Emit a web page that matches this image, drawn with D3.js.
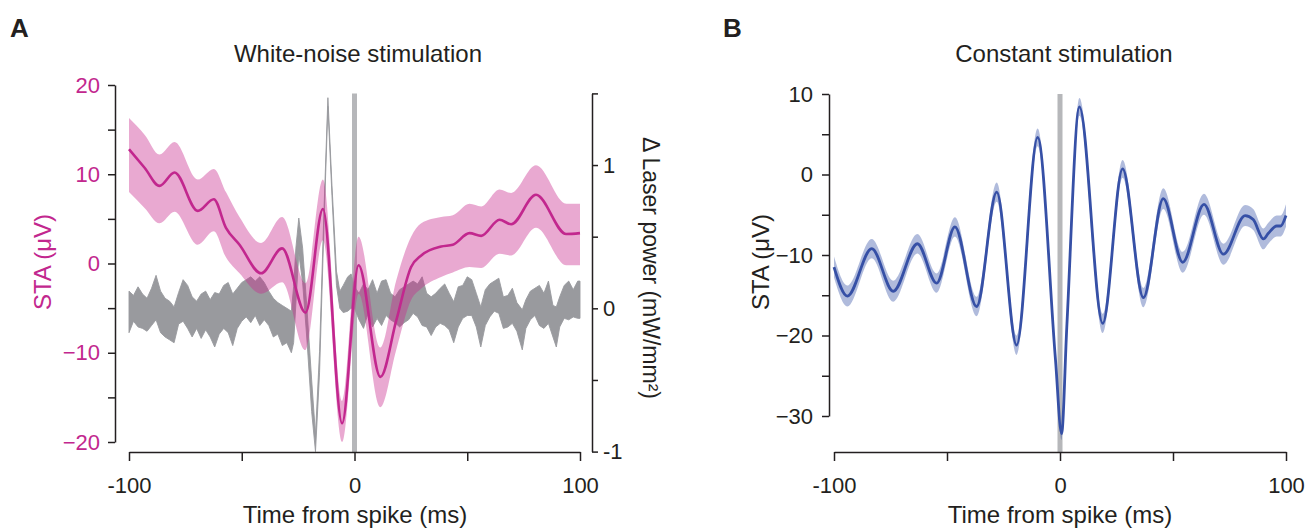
<!DOCTYPE html>
<html><head><meta charset="utf-8">
<script src="https://cdn.jsdelivr.net/npm/d3@7"></script>
<style>
body{margin:0;background:#fff}
svg{display:block}
text{font-family:"Liberation Sans",Arial,Helvetica,sans-serif;fill:#231f20}
</style>
</head><body>
<svg id="chart" width="1314" height="532"></svg>
<script>
// ---------- data ----------
const xTicks = [-100, -50, 0, 50, 100];
const xTickLabels = ["-100", "", "0", "", "100"];

const staATicks = [-20, -15, -10, -5, 0, 5, 10, 15, 20];
const staATickLabels = ["\u221220", "", "\u221210", "", "0", "", "10", "", "20"];

const laserTicks = [-1, -0.5, 0, 0.5, 1, 1.5];
const laserTickLabels = ["-1", "", "0", "", "1", ""];

const staBTicks = [-30, -25, -20, -15, -10, -5, 0, 5, 10];
const staBTickLabels = ["\u221230", "", "\u221220", "", "\u221210", "", "0", "", "10"];

// Panel A: STA (white noise), mean and band edges (µV)
const wnT     = [-100, -93, -86.5, -79.8, -69.5, -62.4, -57, -51, -41.4, -32.1, -21.7, -14, -5.5, 1.8, 11.5, 18.5, 25.1, 29.6, 38.4, 43.6, 51, 56.2, 64.3, 69.5, 80.5, 93.9, 100];
const wnMean  = [12.8, 10.7, 8.7, 10.2, 5.9, 7.2, 4.0, 2.1, -1.1, 1.7, -5.5, 6.1, -17.9, -0.2, -12.7, -6.4, -0.4, 0.9, 1.9, 2.1, 3.4, 3.1, 4.9, 4.4, 7.7, 3.3, 3.4];
const wnUpper = [16.3, 14.4, 12.2, 13.6, 9.4, 10.6, 8.0, 5.2, 2.3, 5.2, -2.2, 9.4, -15.4, 3.0, -9.4, -1.9, 3.0, 4.5, 5.2, 5.4, 6.7, 6.4, 8.3, 7.9, 11.0, 6.7, 6.7];
const wnLower = [8.0, 6.2, 4.5, 5.8, 2.1, 3.6, 0.7, -1.1, -3.4, -2.1, -9.7, 2.6, -20.0, -3.4, -16.1, -9.7, -4.1, -2.8, -1.5, -1.0, -0.4, -0.5, 1.1, 0.9, 4.0, -0.2, -0.2];

// Panel A: laser power STA band (mW/mm^2)
const laserT = [-100,-98,-96,-94,-92,-90,-88,-86,-84,-82,-80,-78,-76,-74,-72,-70,-68,-66,-64,-62,-60,-58,-56,-54,-52,-50,
  -48,-46,-44,-42,-40,-38,-36,-34,-32,-30,-28,-27,-26,-24.7,-23,-21,-19,-17.3,-15.5,-13.5,-11.8,-10,-8,-6.5,-5,-3,-1.5,0,
  2,4,6,8,10,12,14,16,18,20,22,24,26,28,30,32,34,36,38,40,42,44,46,48,50,
  52,54,56,58,60,62,64,66,68,70,72,74.4,76,78,80,82,84,86,88,89.5,91,93,95,97,99,100];
const laserUpper = [0.12,0.09,0.15,0.10,0.07,0.14,0.23,0.12,0.07,0.05,0.01,0.11,0.20,0.16,0.08,0.05,0.10,0.12,0.06,0.11,0.10,0.16,0.18,0.10,0.14,0.18,
  0.20,0.22,0.19,0.22,0.18,0.12,0.07,0.04,0.02,0.00,-0.02,0.15,0.42,0.63,0.42,-0.02,-0.50,-0.88,-0.30,0.70,1.47,0.86,0.26,0.12,0.16,0.22,0.24,0.15,
  0.105,0.17,0.13,0.20,0.105,0.19,0.20,0.105,0.08,0.13,0.15,0.17,0.19,0.17,0.22,0.105,0.08,0.105,0.14,0.17,0.105,0.046,0.15,0.16,0.22,
  0.20,0.105,0.01,0.13,0.17,0.19,0.21,0.08,0.09,0.14,0.04,-0.01,0.06,0.12,0.14,0.16,0.105,0.19,0.02,0.01,0.08,0.16,0.19,0.13,0.19,0.19];
const laserLower = [-0.17,-0.09,-0.13,-0.14,-0.16,-0.12,-0.08,-0.17,-0.20,-0.22,-0.24,-0.11,-0.09,-0.14,-0.20,-0.14,-0.21,-0.15,-0.20,-0.27,-0.18,-0.14,-0.17,-0.26,-0.14,-0.09,
  -0.06,-0.10,-0.05,-0.12,-0.08,-0.12,-0.20,-0.18,-0.26,-0.24,-0.31,-0.24,0.03,0.38,0.18,-0.24,-0.72,-1.00,-0.45,0.60,1.41,0.79,0.16,0.00,-0.03,-0.02,0.00,0.00,
  -0.08,-0.14,-0.035,-0.13,-0.07,-0.12,-0.05,-0.08,-0.10,-0.13,-0.10,-0.08,-0.035,-0.06,-0.12,-0.13,-0.19,-0.13,-0.105,-0.12,-0.15,-0.24,-0.13,-0.07,-0.05,
  -0.05,-0.13,-0.27,-0.12,-0.06,-0.02,-0.035,-0.14,-0.13,-0.105,-0.16,-0.29,-0.14,-0.08,-0.05,-0.12,-0.14,-0.105,-0.20,-0.27,-0.13,-0.07,-0.08,-0.06,-0.07,-0.07];

// Panel B: STA (constant stimulation) mean and sem (µV)
const csT    = [-100, -94.1, -83.3, -73.8, -63.1, -54.6, -46.5, -36.9, -28.0, -19.2, -9.9, -2, 0.7, 3, 8.6, 18.9, 27.7, 36.9, 45.7, 54.3, 63.7, 72.3, 81.9, 85.5, 90.0, 92.2, 95.9, 97.6, 100];
const csMean = [-11.5, -15.1, -9.2, -14.5, -8.6, -13.5, -6.5, -16.4, -2.2, -21.2, 4.6, -23, -32.2, -19, 8.4, -18.5, 0.7, -15.3, -3.0, -10.9, -3.7, -9.9, -5.1, -5.6, -8.0, -7.3, -6.4, -6.4, -5.1];
const csSem  = [1.3, 1.3, 1.2, 1.3, 1.2, 1.2, 1.2, 1.2, 1.2, 1.2, 1.1, 0.8, 0.8, 0.8, 1.1, 1.2, 1.1, 1.2, 1.3, 1.3, 1.3, 1.3, 1.3, 1.3, 1.3, 1.3, 1.3, 1.3, 1.4];

// ---------- styles ----------
const MAGENTA = "#c2278e";
const BLUE = "#3650a6";
const INK = "#231f20";

const svg = d3.select("#chart");

// ---------- scales ----------
const xA = d3.scaleLinear().domain([-100, 100]).range([129, 580]);
const yA = d3.scaleLinear().domain([-20, 20]).range([442, 85]);
const yL = d3.scaleLinear().domain([-1, 1.5]).range([451.6, 93.4]);
const xB = d3.scaleLinear().domain([-100, 100]).range([834, 1286]);
const yB = d3.scaleLinear().domain([-30, 10]).range([416, 94]);

// ---------- Panel A ----------
const gA = svg.append("g");
gA.append("line").attr("x1", xA(0)).attr("x2", xA(0)).attr("y1", yL(1.5)).attr("y2", 452)
  .attr("stroke", "#b6b7ba").attr("stroke-width", 5);

const laserData = laserT.map((t, i) => ({t, lo: laserLower[i], hi: laserUpper[i]}));
gA.append("path").datum(laserData)
  .attr("d", d3.area().x(d => xA(d.t)).y0(d => yL(d.lo)).y1(d => yL(d.hi)).curve(d3.curveLinear))
  .attr("fill", "#999a9e").attr("stroke", "#999a9e").attr("stroke-width", 0.9);

const wnData = wnT.map((t, i) => ({t, m: wnMean[i], lo: wnLower[i], hi: wnUpper[i]}));
gA.append("path").datum(wnData)
  .attr("d", d3.area().x(d => xA(d.t)).y0(d => yA(d.lo)).y1(d => yA(d.hi)).curve(d3.curveMonotoneX))
  .attr("fill", "rgb(200,40,140)").attr("fill-opacity", 0.4);
gA.append("path").datum(wnData)
  .attr("d", d3.line().x(d => xA(d.t)).y(d => yA(d.m)).curve(d3.curveMonotoneX))
  .attr("fill", "none").attr("stroke", MAGENTA).attr("stroke-width", 2.6);

function styleAxis(g) {
  g.selectAll("path.domain").attr("stroke", INK).attr("stroke-width", 1.5);
  g.selectAll(".tick line").attr("stroke", INK).attr("stroke-width", 1.5);
  g.selectAll("text").attr("font-family", null).attr("font-size", null);
}
const axXA = gA.append("g").attr("transform", "translate(0,452)")
  .call(d3.axisBottom(xA).tickValues(xTicks).tickSize(9).tickSizeOuter(0).tickFormat((d, i) => xTickLabels[i]));
styleAxis(axXA);
axXA.selectAll("text").attr("y", 41).attr("dy", 0).style("font-size", "22px");

const axYA = gA.append("g").attr("transform", "translate(115,0)")
  .call(d3.axisLeft(yA).tickValues(staATicks).tickSize(7).tickSizeOuter(0).tickPadding(8).tickFormat((d, i) => staATickLabels[i]));
styleAxis(axYA);
axYA.selectAll("text").style("font-size", "22px").style("fill", MAGENTA);

const axL = gA.append("g").attr("transform", "translate(592,0)")
  .call(d3.axisRight(yL).tickValues(laserTicks).tickSize(6).tickSizeOuter(0).tickPadding(5).tickFormat((d, i) => laserTickLabels[i]));
styleAxis(axL);
axL.selectAll("text").style("font-size", "22px");

svg.append("text").attr("x", 10).attr("y", 37).style("font-size", "26px").style("font-weight", "bold").text("A");
svg.append("text").attr("x", 358).attr("y", 62).attr("text-anchor", "middle").style("font-size", "24px").text("White-noise stimulation");
svg.append("text").attr("x", 355).attr("y", 523).attr("text-anchor", "middle").style("font-size", "24px").text("Time from spike (ms)");
svg.append("text").attr("transform", "translate(51,262) rotate(-90)").attr("text-anchor", "middle")
  .style("font-size", "24px").style("fill", MAGENTA).text("STA (\u03bcV)");
svg.append("text").attr("transform", "translate(643,268) rotate(90)").attr("text-anchor", "middle")
  .style("font-size", "23px").text("\u0394 Laser power (mW/mm\u00b2)");

// ---------- Panel B ----------
const gB = svg.append("g");
gB.append("line").attr("x1", xB(0)).attr("x2", xB(0)).attr("y1", yB(10)).attr("y2", 452)
  .attr("stroke", "#b6b7ba").attr("stroke-width", 5);

const csData = csT.map((t, i) => ({t, m: csMean[i], s: csSem[i]}));
gB.append("path").datum(csData)
  .attr("d", d3.area().x(d => xB(d.t)).y0(d => yB(d.m - d.s)).y1(d => yB(d.m + d.s)).curve(d3.curveMonotoneX))
  .attr("fill", "rgb(58,85,168)").attr("fill-opacity", 0.4);
gB.append("path").datum(csData)
  .attr("d", d3.line().x(d => xB(d.t)).y(d => yB(d.m)).curve(d3.curveMonotoneX))
  .attr("fill", "none").attr("stroke", BLUE).attr("stroke-width", 2.8);

const axXB = gB.append("g").attr("transform", "translate(0,452)")
  .call(d3.axisBottom(xB).tickValues(xTicks).tickSize(9).tickSizeOuter(0).tickFormat((d, i) => xTickLabels[i]));
styleAxis(axXB);
axXB.selectAll("text").attr("y", 41).attr("dy", 0).style("font-size", "22px");

const axYB = gB.append("g").attr("transform", "translate(829,0)")
  .call(d3.axisLeft(yB).tickValues(staBTicks).tickSize(7).tickSizeOuter(0).tickPadding(9).tickFormat((d, i) => staBTickLabels[i]));
styleAxis(axYB);
axYB.selectAll("text").style("font-size", "22px");

svg.append("text").attr("x", 723).attr("y", 37).style("font-size", "26px").style("font-weight", "bold").text("B");
svg.append("text").attr("x", 1064).attr("y", 62).attr("text-anchor", "middle").style("font-size", "24px").text("Constant stimulation");
svg.append("text").attr("x", 1060).attr("y", 523).attr("text-anchor", "middle").style("font-size", "24px").text("Time from spike (ms)");
svg.append("text").attr("transform", "translate(769,262) rotate(-90)").attr("text-anchor", "middle")
  .style("font-size", "24px").text("STA (\u03bcV)");
</script>
</body></html>
